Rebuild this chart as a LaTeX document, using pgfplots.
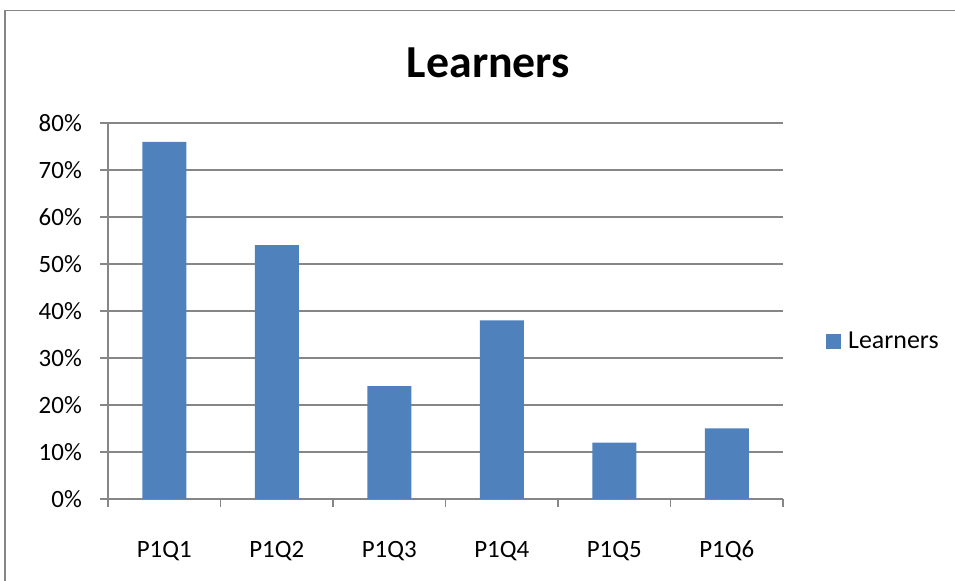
\documentclass[border=0pt]{standalone}
\usepackage{pgfplots}
\pgfplotsset{compat=1.18}
\usepackage{fontspec}
\setmainfont{Carlito}
\definecolor{barblue}{HTML}{4F81BD}
\definecolor{gridgray}{HTML}{868686}
\begin{document}
\begin{tikzpicture}[x=1bp,y=1bp]
\path[use as bounding box] (0,0) rectangle (955,581);
\draw[gridgray, line width=1.5bp] (5,0) -- (5,570.5) -- (955,570.5);
\node[anchor=base, font=\fontsize{46}{50}\selectfont\bfseries] at (488.5,503) {Learners};
\begin{axis}[
  at={(108bp,82bp)}, anchor=south west,
  scale only axis, width=675bp, height=376bp,
  xmin=-0.5, xmax=5.5, ymin=0, ymax=80,
  axis lines=left, axis line style={-, gridgray, line width=1.5bp},
  /pgf/number format/assume math mode=true,
  ytick={0,10,...,80},
  yticklabel={\pgfmathprintnumber{\tick}\%},
  ymajorgrids, grid style={gridgray, line width=1.5bp},
  xtick={0,...,5},
  xticklabels={P1Q1,P1Q2,P1Q3,P1Q4,P1Q5,P1Q6},
  minor xtick={-0.5,0.5,...,5.5},
  tick align=outside,
  major tick length=8bp, minor tick length=8bp,
  x tick style={draw=none},
  minor x tick style={draw=gridgray, line width=1.5bp},
  y tick style={gridgray, line width=1.5bp},
  tick label style={font=\fontsize{25}{28}\selectfont},
  xticklabel style={anchor=base, inner sep=0pt, yshift=-51bp},
  yticklabel style={anchor=east, inner sep=0pt, xshift=-18bp},
  ybar, bar width=44bp,
  legend style={draw=none, at={(1,0.42)}, anchor=west, xshift=43bp,
    font=\fontsize{26}{28}\selectfont, inner sep=0pt},
  legend image code/.code={\fill[barblue] (0bp,-7.5bp) rectangle (15bp,7.5bp); \path (20bp,0bp);},
]
\addplot[fill=barblue, draw=none] coordinates {(0,76) (1,54) (2,24) (3,38) (4,12) (5,15)};
\addlegendentry{Learners}
\end{axis}
\end{tikzpicture}
\end{document}
